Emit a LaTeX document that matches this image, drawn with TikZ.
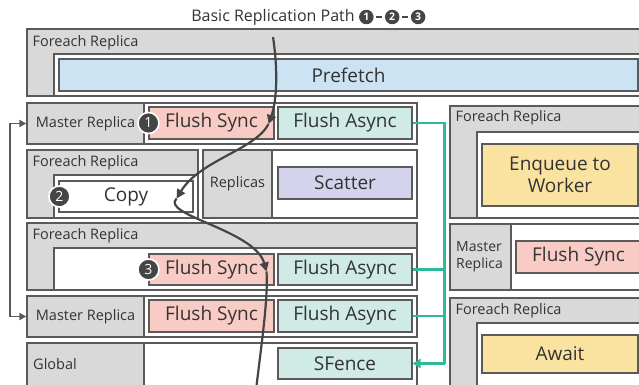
\documentclass[tikz,border=0pt]{standalone}
\usepackage{fontspec}
\setmainfont{Open Sans}
\usetikzlibrary{fit,positioning,arrows.meta}

\definecolor{boxgray}{HTML}{D9D9D9}
\definecolor{edge}{HTML}{5A5A5A}
\definecolor{ink}{HTML}{333333}
\definecolor{syncred}{HTML}{F9CBC5}
\definecolor{asyncteal}{HTML}{D0EAE6}
\definecolor{prefblue}{HTML}{CCE3F4}
\definecolor{scatterlav}{HTML}{D4D3EE}
\definecolor{queueyel}{HTML}{FAE3A0}
\definecolor{busgreen}{HTML}{2DBB9C}
\definecolor{pathgray}{HTML}{454545}

\tikzset{
  grp/.style={draw=edge, fill=boxgray, line width=1.3pt, inner sep=0pt},
  body/.style={draw=edge, fill=white, line width=1.3pt, inner sep=0pt},
  op/.style={draw=edge, line width=1.1pt, inner sep=0pt,
    label={[optext]center:#1}},
  optext/.style={inner sep=0pt, text=ink, align=center, font=\fontsize{19}{22}\selectfont},
  tag/.style={anchor=west, inner sep=0pt, text=ink, font=\fontsize{14.5}{17}\selectfont},
  sidetag/.style={inner sep=0pt, text=ink, font=\fontsize{14.5}{17}\selectfont},
  stepno/.style={circle, fill=pathgray, draw=white, line width=1.6pt, text=white,
    inner sep=0pt, minimum size=21pt, font=\fontsize{14}{14}\selectfont},
  mini/.style={circle, fill=pathgray, text=white, inner sep=0pt, minimum size=14.5pt,
    font=\bfseries\fontsize{10.5}{10.5}\selectfont},
  hyph/.style={draw=pathgray, line width=2.4pt, shorten <=2.5pt, shorten >=2.5pt},
  bus/.style={draw=busgreen, line width=2.2pt},
  flow/.style={draw=pathgray, line width=2.2pt, -{Triangle[length=9pt,width=9pt]}},
}

\begin{document}
\begin{tikzpicture}[x=1pt,y=-1pt]
\useasboundingbox (0,0) rectangle (639,385);
\clip (0,0) rectangle (639,385);

% prefetch loop
\node[grp, fit={(27,29) (660,96)}] (pre) {};
\node[tag] at ([xshift=6pt,yshift=-14pt]pre.north west) (pretag) {Foreach Replica};
\node[body, fit={(54,54) (660,96)}] (prein) {};
\node[op=Prefetch, fill=prefblue, fit={(59,59) (638,91)}] (pf) {};

% master replica, first flush
\node[body, fit={(27,103) (417,144)}] (mr1) {};
\node[grp, fit={(27,103) (144,144)}, label={[sidetag]center:Master Replica}] (mr1tag) {};
\node[op=Flush Sync, fill=syncred, fit={(149,107) (274,139)}] (fs1) {};
\node[op=Flush Async, fill=asyncteal, fit={(278,107) (412,139)}] (fa1) {};

% copy loop
\node[grp, fit={(27,150) (198,218)}] (cpl) {};
\node[tag] at ([xshift=6pt,yshift=-13pt]cpl.north west) (cpltag) {Foreach Replica};
\node[body, fit={(54,175) (198,218)}] (cplin) {};
\node[op=Copy, fill=white, fit={(59,181) (193,212)}] (cp) {};

% scatter
\node[body, fit={(203,150) (417,218)}] (sc) {};
\node[grp, fit={(203,150) (272,218)}, label={[sidetag]center:Replicas}] (sctag) {};
\node[op=Scatter, fill=scatterlav, fit={(278,167) (412,199)}] (scat) {};

% flush loop
\node[grp, fit={(27,223) (417,290)}] (fl) {};
\node[tag] at ([xshift=6pt,yshift=-13pt]fl.north west) (fltag) {Foreach Replica};
\node[body, fit={(54,248) (417,290)}] (flin) {};
\node[op=Flush Sync, fill=syncred, fit={(149,254) (274,285)}] (fs3) {};
\node[op=Flush Async, fill=asyncteal, fit={(278,254) (412,285)}] (fa3) {};

% master replica, second flush
\node[body, fit={(27,296) (417,337)}] (mr2) {};
\node[grp, fit={(27,296) (144,337)}, label={[sidetag]center:Master Replica}] (mr2tag) {};
\node[op=Flush Sync, fill=syncred, fit={(149,300) (274,332)}] (fs4) {};
\node[op=Flush Async, fill=asyncteal, fit={(278,300) (412,332)}] (fa4) {};

% global fence
\node[body, fit={(27,343) (417,395)}] (gl) {};
\node[grp, fit={(27,343) (144,395)}] (gltag) {};
\node[sidetag, anchor=west] at (33,364) (gltext) {Global};
\node[op=SFence, fill=asyncteal, fit={(278,348) (412,379)}] (sf) {};

% right column
\node[grp, fit={(450,106) (660,218)}] (eq) {};
\node[tag] at ([xshift=6pt,yshift=-12pt]eq.north west) (eqtag) {Foreach Replica};
\node[body, fit={(477,132) (660,218)}] (eqin) {};
\node[op={Enqueue to\\Worker}, fill=queueyel, fit={(482,144) (638,206)}] (enq) {};

\node[body, fit={(450,224) (660,290)}] (mr3) {};
\node[grp, fit={(450,224) (511,290)}] (mr3tag) {};
\node[sidetag, anchor=west, align=left, font=\fontsize{14}{17}\selectfont]
  at (456,257) (mr3text) {Master\\Replica};
\node[op=Flush Sync, fill=syncred, fit={(516,241) (641,273)}] (fs5) {};

\node[grp, fit={(450,298) (660,395)}] (aw) {};
\node[tag] at ([xshift=6pt,yshift=-13pt]aw.north west) (awtag) {Foreach Replica};
\node[body, fit={(477,323) (660,395)}] (awin) {};
\node[op=Await, fill=queueyel, fit={(482,335) (638,373)}] (await) {};

% async flushes join into the fence
\coordinate (trunk) at ([xshift=32pt]sf.east);
\draw[bus] (fa1.east) -| (trunk |- sf.east);
\draw[bus] (fa3.east) -- (fa3.east -| trunk);
\draw[bus] (fa4.east) -- (fa4.east -| trunk);
\draw[bus, -{Triangle[length=8pt,width=9pt]}] (trunk) -- (sf.east);

% master replicas
\draw[draw=edge, line width=1.8pt, {Triangle[length=7pt,width=7pt]}-{Triangle[length=7pt,width=7pt]}]
  (mr1tag.west) -- ++(-16,0) |- (mr2tag.west);

% replication path
\coordinate (p0) at (273,37);
\coordinate (p1) at ([xshift=-6pt,yshift=-1pt]fs1.east);
\coordinate (p2) at ([xshift=-17pt,yshift=-2pt]cp.east);
\coordinate (p3) at ([xshift=-8pt,yshift=-2pt]fs3.east);
\coordinate (p4) at (256,390);
\draw[flow] (p0) .. controls (278,70) and (277,100) .. (p1);
\draw[flow] (p1) .. controls (255,150) and (200,160) .. (p2);
\draw[flow] (p2) .. controls (160,215) and (255,230) .. (p3);
\draw[draw=pathgray, line width=2.2pt] (p3) .. controls (268,300) and (262,340) .. (p4);

\node[stepno] at (fs1.west) (n1) {1};
\node[stepno] at ([xshift=1pt]cp.west) (n2) {2};
\node[stepno] at (fs3.west) (n3) {3};

% title
\node[inner sep=0pt, text=ink, font=\fontsize{16}{19}\selectfont] at (273,17) (title) {Basic Replication Path};
\node[mini, right=4pt of title] (t1) {1};
\node[mini, right=11pt of t1] (t2) {2};
\node[mini, right=11pt of t2] (t3) {3};
\draw[hyph] (t1) -- (t2);
\draw[hyph] (t2) -- (t3);
\end{tikzpicture}
\end{document}
